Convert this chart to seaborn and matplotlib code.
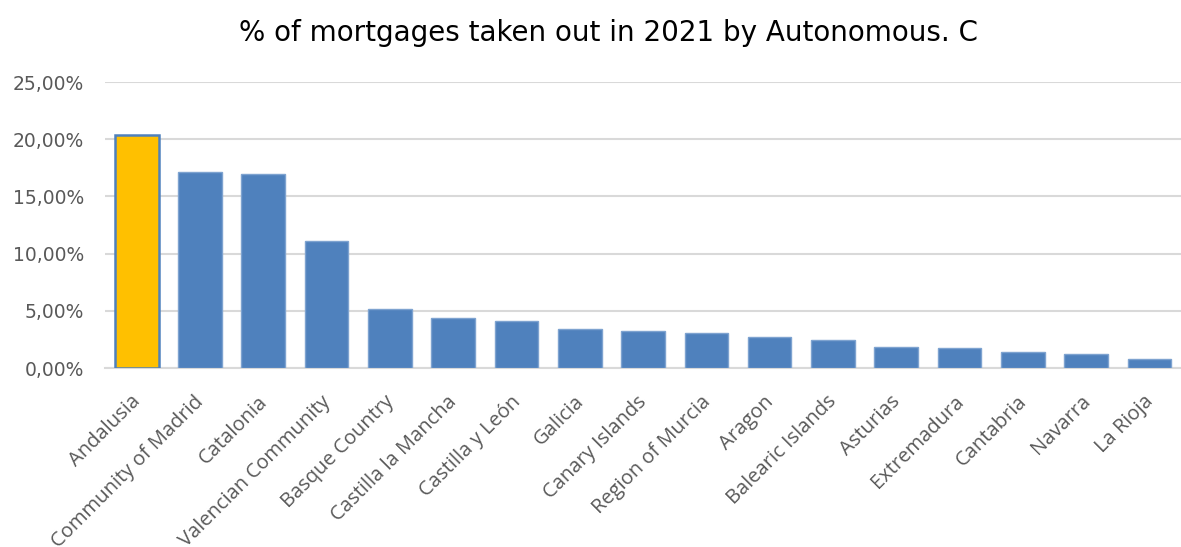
import matplotlib
matplotlib.use("Agg")
import matplotlib.pyplot as plt
from matplotlib.ticker import FuncFormatter, MultipleLocator
from matplotlib.transforms import ScaledTranslation
import seaborn as sns
import pandas as pd

regions = [
    "Andalusia", "Community of Madrid", "Catalonia", "Valencian Community",
    "Basque Country", "Castilla la Mancha", "Castilla y León", "Galicia",
    "Canary Islands", "Region of Murcia", "Aragon", "Balearic Islands",
    "Asturias", "Extremadura", "Cantabria", "Navarra", "La Rioja",
]
share_pct = [
    20.37, 17.16, 16.93, 11.07, 5.16, 4.34, 4.13, 3.44, 3.26, 3.06,
    2.74, 2.45, 1.86, 1.72, 1.43, 1.25, 0.76,
]
highlight = "Andalusia"

BLUE = "#4f81bd"
GOLD = "#ffc000"
GRID = "#d9d9d9"
TEXT = "#595959"

df = pd.DataFrame({"region": regions, "share": share_pct})
palette = {r: (GOLD if r == highlight else BLUE) for r in regions}

sns.set_theme(style="white")
plt.rcParams["font.family"] = ["DejaVu Sans"]

fig = plt.figure(figsize=(11.81, 5.47), dpi=100)
ax = fig.add_axes([0.089, 0.327, 0.911, 0.523])

sns.barplot(data=df, x="region", y="share", hue="region", palette=palette,
            legend=False, width=0.69, ax=ax, saturation=1,
            edgecolor="#7ea3d0", linewidth=1.0, zorder=3)

# outline the highlighted bar in the series blue
for patch, r in zip(ax.patches, regions):
    if r == highlight:
        patch.set_edgecolor(BLUE)
        patch.set_linewidth(1.8)

ax.set_ylim(0, 25)
ax.set_xlim(-0.5, len(regions) - 0.5)
ax.yaxis.set_major_locator(MultipleLocator(5))
ax.yaxis.set_major_formatter(
    FuncFormatter(lambda v, _: f"{v:.2f}".replace(".", ",") + "%"))
ax.grid(axis="y", color=GRID, linewidth=1.5, zorder=0)
ax.set_axisbelow(True)

for side in ("top", "right", "left"):
    ax.spines[side].set_visible(False)
ax.spines["bottom"].set_color(GRID)
ax.spines["bottom"].set_linewidth(1.5)

ax.set_xlabel("")
ax.set_ylabel("")
ax.tick_params(axis="y", length=0, pad=15, labelsize=13.5, labelcolor=TEXT)
ax.tick_params(axis="x", length=0, pad=17, labelcolor=TEXT)
ax.set_xticks(range(len(regions)))
ax.set_xticklabels(regions, rotation=45, ha="right", rotation_mode="anchor",
                   fontsize=14.5, family=["Open Sans", "DejaVu Sans"])

# nudge the slanted category labels slightly left so they end under each bar
nudge = ScaledTranslation(-6 / 100, 0, fig.dpi_scale_trans)
for lbl in ax.get_xticklabels():
    lbl.set_transform(lbl.get_transform() + nudge)

fig.text(0.515, 0.94, "% of mortgages taken out in 2021 by Autonomous. C",
         ha="center", va="center", fontsize=20, color="#000000")

fig.savefig("out.png", dpi=100, facecolor="white")
